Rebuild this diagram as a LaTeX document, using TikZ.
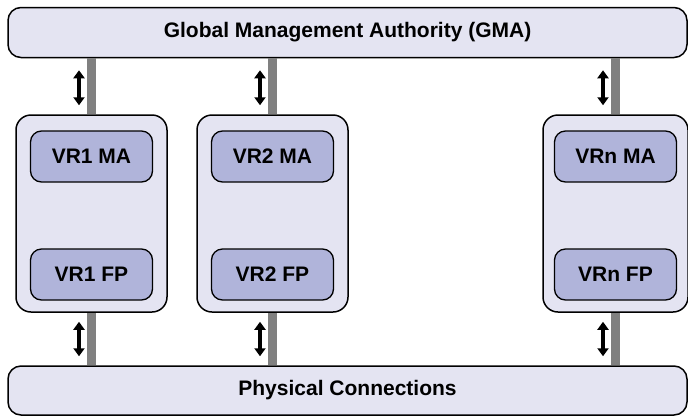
\documentclass[tikz,border=0pt]{standalone}
\usepackage{fontspec}
\setmainfont{Liberation Sans}
\usetikzlibrary{arrows.meta}
\definecolor{outerfill}{RGB}{228,228,242}
\definecolor{innerfill}{RGB}{176,180,218}
\definecolor{bargray}{RGB}{128,128,128}
\begin{document}
\begin{tikzpicture}[x=1pt,y=-1pt,
  wide/.style={draw=black,line width=1.5pt,fill=outerfill,rounded corners=13pt,
    minimum width=679pt,minimum height=50pt,inner sep=0pt,
    font=\fontsize{21}{25}\selectfont\bfseries},
  vrbox/.style={draw=black,line width=1.5pt,fill=outerfill,rounded corners=15pt,
    minimum height=197pt,inner sep=0pt},
  fn/.style={draw=black,line width=1.3pt,fill=innerfill,rounded corners=11pt,
    minimum width=122pt,minimum height=51pt,inner sep=0pt,
    font=\fontsize{21}{25}\selectfont\bfseries},
  dbl/.style={line width=3.5pt,{Triangle[width=11pt,length=8pt]}-{Triangle[width=11pt,length=8pt]}}]
\useasboundingbox (0,0) rectangle (688,416);

\node[wide] (gma) at (347.5,32.5) {Global Management Authority (GMA)};
\node[wide,minimum height=49pt] (phys) at (347.5,390.5) {Physical Connections};

\node[vrbox,minimum width=151pt] (vr1) at (91.5,213.5) {};
\node[vrbox,minimum width=151pt] (vr2) at (272.5,213.5) {};
\node[vrbox,minimum width=145pt] (vrn) at (615.5,213.5) {};

\node[fn] (ma1) at (91.5,156.5) {VR1 MA};
\node[fn] (fp1) at (91.5,274.5) {VR1 FP};
\node[fn] (ma2) at (272.5,156.5) {VR2 MA};
\node[fn] (fp2) at (272.5,274.5) {VR2 FP};
\node[fn] (man) at (615.5,156.5) {VRn MA};
\node[fn] (fpn) at (615.5,274.5) {VRn FP};

% gray links
\foreach \v in {vr1,vr2,vrn}{
  \fill[bargray] ([xshift=-4.5pt]gma.south -| \v.north) rectangle ([xshift=4.5pt]\v.north);
  \fill[bargray] ([xshift=-4.5pt]\v.south) rectangle ([xshift=4.5pt]phys.north -| \v.south);
}
% double arrows beside the links
\foreach \v in {vr1,vr2,vrn}{
  \coordinate (\v-ta) at ([xshift=-12.5pt,yshift=-12pt]gma.south -| \v.north);
  \coordinate (\v-tb) at ([xshift=-12.5pt,yshift=9pt]\v.north);
  \coordinate (\v-ba) at ([xshift=-12.5pt,yshift=-9pt]\v.south);
  \coordinate (\v-bb) at ([xshift=-12.5pt,yshift=9pt]phys.north -| \v.south);
  \draw[dbl] (\v-ta) -- (\v-tb);
  \draw[dbl] (\v-ba) -- (\v-bb);
}
\end{tikzpicture}
\end{document}
